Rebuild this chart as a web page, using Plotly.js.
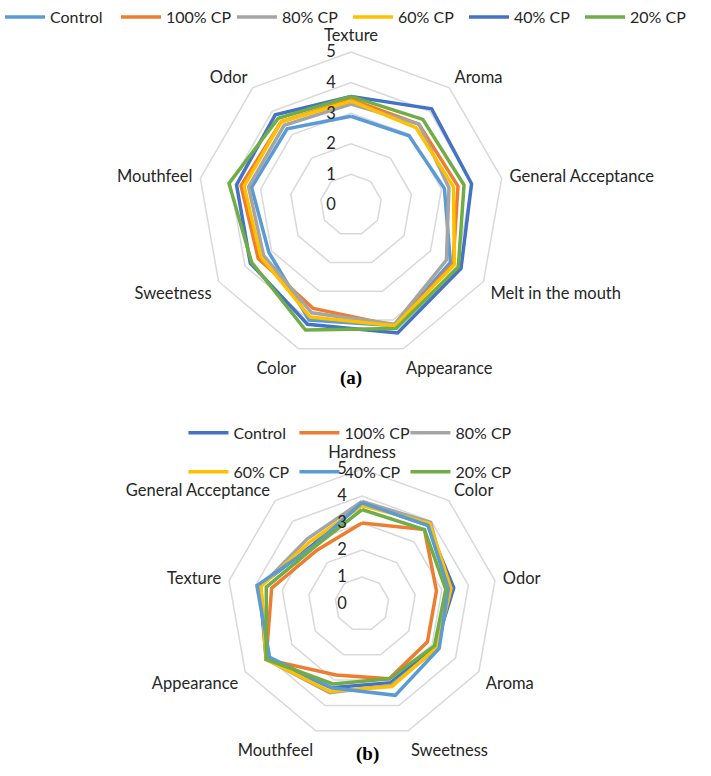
<!DOCTYPE html>
<html>
<head>
<meta charset="utf-8">
<script src="https://cdn.plot.ly/plotly-3.0.1.min.js"></script>
<style>
  html, body { margin: 0; padding: 0; background: #fff; }
  #chart { width: 711px; height: 776px; }
</style>
</head>
<body>
<div id="chart"></div>
<script>
// (a) attributes, clockwise from the top
const attrsA = ['Texture','Aroma','General Acceptance','Melt in the mouth','Appearance','Color','Sweetness','Mouthfeel','Odor'];
// (b) attributes, clockwise from the top
const attrsB = ['Hardness','Color','Odor','Aroma','Sweetness','Mouthfeel','Appearance','Texture','General Acceptance'];

const seriesNames = ['Control','100% CP','80% CP','60% CP','40% CP','20% CP'];
const colorsA = ['#5b9bd5','#ed7d31','#a5a5a5','#ffc000','#4472c4','#70ad47'];
const colorsB = ['#4472c4','#ed7d31','#a5a5a5','#ffc000','#5b9bd5','#70ad47'];

const controlA = [2.9, 2.95, 3.1, 3.75, 4.2, 4.0, 3.1, 3.3, 3.25];
const cp100A   = [3.45, 3.45, 3.55, 3.85, 4.2, 3.6, 3.5, 3.65, 3.55];
const cp80A    = [3.3, 3.45, 3.25, 3.6, 4.15, 3.75, 3.3, 3.4, 3.4];
const cp60A    = [3.4, 3.3, 3.4, 3.9, 4.2, 3.9, 3.4, 3.55, 3.55];
const cp40A    = [3.55, 4.1, 4.0, 4.15, 4.45, 4.15, 3.8, 3.8, 3.85];
const cp20A    = [3.55, 3.65, 3.75, 4.05, 4.3, 4.35, 3.75, 4.05, 3.7];

const controlB = [3.75, 3.8, 3.45, 3.15, 3.1, 3.3, 4.1, 3.85, 2.85];
const cp100B   = [3.0, 3.6, 2.8, 2.8, 2.95, 2.8, 4.1, 3.4, 2.6];
const cp80B    = [3.8, 3.95, 3.25, 3.25, 3.2, 3.5, 4.1, 3.8, 3.15];
const cp60B    = [3.65, 3.9, 3.35, 3.2, 3.25, 3.45, 4.1, 3.8, 3.0];
const cp40B    = [3.75, 3.8, 3.25, 3.3, 3.6, 3.3, 3.95, 3.95, 2.8];
const cp20B    = [3.5, 3.6, 3.15, 3.1, 2.95, 3.15, 4.1, 3.6, 2.75];

const valuesA = [controlA, cp100A, cp80A, cp60A, cp40A, cp20A];
const valuesB = [controlB, cp100B, cp80B, cp60B, cp40B, cp20B];

const FONT = 'Lato, "Open Sans", sans-serif';
const close = arr => [...arr, arr[0]];

const tracesA = valuesA.map((v, i) => ({
  type: 'scatterpolar', mode: 'lines', subplot: 'polar',
  r: close(v), theta: close(attrsA), name: seriesNames[i],
  line: {color: colorsA[i], width: 3.5}, legend: 'legend'
}));
const tracesB = valuesB.map((v, i) => ({
  type: 'scatterpolar', mode: 'lines', subplot: 'polar2',
  r: close(v), theta: close(attrsB), name: seriesNames[i],
  line: {color: colorsB[i], width: 3.5}, legend: i < 3 ? 'legend2' : 'legend3'
}));

const polarOf = (x, y, cats) => ({
  domain: {x, y},
  bgcolor: '#fff',
  gridshape: 'linear',
  radialaxis: {
    range: [0, 5], dtick: 1, angle: 90, side: 'counterclockwise',
    showline: false, gridcolor: '#d9d9d9', gridwidth: 1.5,
    ticks: 'outside', ticklen: 9, tickcolor: 'rgba(0,0,0,0)', tickangle: 90,
    tickfont: {family: FONT, size: 16.5, color: '#262626'}
  },
  angularaxis: {
    type: 'category', categoryarray: cats,
    rotation: 90, direction: 'clockwise',
    showgrid: false, showline: true, linecolor: '#d9d9d9', linewidth: 1.5,
    ticks: 'outside', ticklen: 4, tickcolor: 'rgba(0,0,0,0)',
    tickfont: {family: FONT, size: 16.5, color: '#262626'}
  }
});

const legendOf = (x, y, w) => ({
  orientation: 'h', x, y, xanchor: 'left', yanchor: 'top',
  entrywidth: w, entrywidthmode: 'pixels', itemwidth: 40,
  bgcolor: 'rgba(0,0,0,0)', font: {family: FONT, size: 16, color: '#262626'}
});

const layout = {
  width: 711, height: 776,
  margin: {l: 0, r: 0, t: 0, b: 0},
  paper_bgcolor: '#fff',
  showlegend: true,
  polar: polarOf([0.2785, 0.7089], [0.5387, 0.933], attrsA),
  polar2: polarOf([0.3193, 0.699], [0.0477, 0.3956], attrsB),
  legend: legendOf(0, 1, 61),
  legend2: legendOf(0.258, 0.464, 56),
  legend3: legendOf(0.258, 0.414, 56),
  annotations: [
    {text: '<b>(a)</b>', x: 351 / 711, y: 1 - 378 / 776, xref: 'paper', yref: 'paper', showarrow: false,
     font: {family: '"Liberation Serif", serif', size: 19, color: '#000'}},
    {text: '<b>(b)</b>', x: 367 / 711, y: 1 - 767 / 776, xref: 'paper', yref: 'paper', showarrow: false,
     font: {family: '"Liberation Serif", serif', size: 19, color: '#000'}}
  ]
};

Plotly.newPlot('chart', [...tracesA, ...tracesB], layout, {displayModeBar: false, staticPlot: true});
</script>
</body>
</html>
